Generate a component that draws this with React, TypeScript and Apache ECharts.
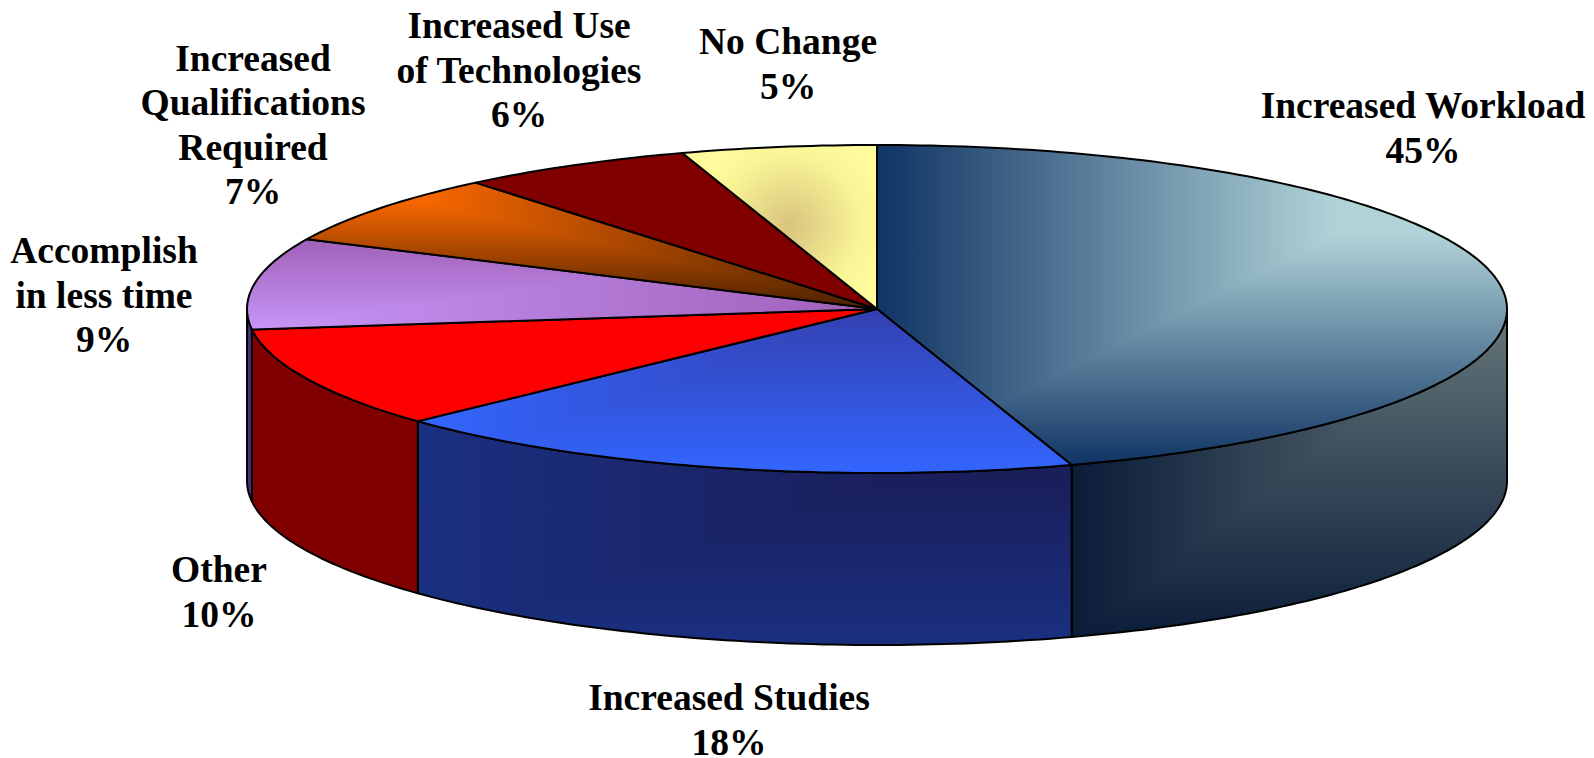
import React, { useEffect, useRef } from "react";
import * as echarts from "echarts";

const categories = [
  "Increased Workload",
  "Increased Studies",
  "Other",
  "Accomplish\nin less time",
  "Increased\nQualifications\nRequired",
  "Increased Use\nof Technologies",
  "No Change",
];
const percentages = [45, 18, 10, 9, 7, 6, 5];

type Pt = number[];
const CX = 877, CY = 309, RX = 630, RY = 164, DEPTH = 172;
const FONT = "'Liberation Serif', 'Times New Roman', serif";
const labelCenters = [
  [1423, 128], [729, 720], [219, 592], [104, 295], [253, 125], [519, 70], [788, 64],
];

const rad = (d: number) => (d * Math.PI) / 180;
const onRim = (deg: number, dy = 0): Pt => [CX + RX * Math.sin(rad(deg)), CY - RY * Math.cos(rad(deg)) + dy];
function arc(a0: number, a1: number, dy = 0): Pt[] {
  const n = Math.max(2, Math.ceil(Math.abs(a1 - a0)));
  const pts: Pt[] = [];
  for (let i = 0; i <= n; i++) pts.push(onRim(a0 + ((a1 - a0) * i) / n, dy));
  return pts;
}
// keep the part of a polygon where f(p) >= 0
function clip(pts: Pt[], f: (p: Pt) => number): Pt[] {
  const out: Pt[] = [];
  pts.forEach((p, i) => {
    const q = pts[(i + 1) % pts.length];
    const fp = f(p), fq = f(q);
    if (fp >= 0) out.push(p);
    if (fp >= 0 !== fq >= 0) {
      const t = fp / (fp - fq);
      out.push([p[0] + (q[0] - p[0]) * t, p[1] + (q[1] - p[1]) * t]);
    }
  });
  return out;
}
const grad = (x0: number, y0: number, x1: number, y1: number, c0: string, c1: string) =>
  new echarts.graphic.LinearGradient(x0, y0, x1, y1, [{ offset: 0, color: c0 }, { offset: 1, color: c1 }], true);

// colour follows min(horizontal ramp, vertical ramp): a creased, corner-to-corner fill
function creased(pts: Pt[], x0: number, x1: number, y0: number, y1: number, c0: string, c1: string) {
  const lower = clip(pts, (p) => (p[0] - x0) / (x1 - x0) - (p[1] - y0) / (y1 - y0));
  const els: any[] = [
    { type: "polygon", shape: { points: pts }, style: { fill: grad(x0, 0, x1, 0, c0, c1) } },
  ];
  if (lower.length > 2)
    els.push({ type: "polygon", shape: { points: lower }, style: { fill: grad(0, y0, 0, y1, c0, c1) } });
  return els;
}
const flat = (pts: Pt[], fill: any) => [{ type: "polygon", shape: { points: pts }, style: { fill } }];
const outline = (pts: Pt[]) => ({
  type: "polygon",
  shape: { points: pts },
  style: { fill: "none", stroke: "#000", lineWidth: 2, lineJoin: "round" },
});

const topFills: ((p: Pt[]) => any[])[] = [
  (p) => creased(p, 877, 1335, 466, 234, "#103464", "#b0d3d8"),
  (p) => creased(p, 418, 877, 474, 309, "#3366ff", "#3340b0"),
  (p) => flat(p, "#ff0000"),
  (p) => creased(p, 877, 251, 239, 329, "#a060b8", "#c796f8"),
  (p) => creased(p, 877, 430, 309, 203, "#4a2000", "#f56600"),
  (p) => flat(p, "#800000"),
  (p) =>
    flat(
      p,
      new echarts.graphic.RadialGradient(
        790, 225, 95,
        [{ offset: 0, color: "#d8c47e" }, { offset: 0.75, color: "#f9f596" }, { offset: 1, color: "#fdfb9c" }],
        true
      )
    ),
];
const sideFills: ((p: Pt[]) => any[])[] = [
  (p) => creased(p, 1072, 1507, 641, 309, "#0a1c38", "#66787a"),
  (p) => creased(p, 418, 880, 646, 481, "#1a3080", "#1a1f5c"),
  (p) => flat(p, "#800000"),
  (p) => flat(p, "#4b2c77"),
  (p) => flat(p, "#000"),
  (p) => flat(p, "#000"),
  (p) => flat(p, "#000"),
];

const total = percentages.reduce((a, b) => a + b, 0);

function renderItem(params: any, api: any) {
  const i = params.dataIndex;
  const before = percentages.slice(0, i).reduce((a, b) => a + b, 0);
  const a0 = (before / total) * 360;
  const a1 = ((before + api.value(0)) / total) * 360;
  const children: any[] = [];

  const s0 = Math.max(a0, 90), s1 = Math.min(a1, 270);
  if (s1 > s0) {
    const side = [...arc(s0, s1), ...arc(s1, s0, DEPTH)];
    children.push(...sideFills[i](side), outline(side));
  }
  const top: Pt[] = [[CX, CY], ...arc(a0, a1)];
  children.push(...topFills[i](top), outline(top));
  children.push({
    type: "text",
    z2: 10,
    style: {
      x: labelCenters[i][0],
      y: labelCenters[i][1],
      text: `${categories[i]}\n${api.value(0)}%`,
      align: "center",
      verticalAlign: "middle",
      font: `bold 37.5px ${FONT}`,
      lineHeight: 44.6,
      fill: "#000",
    },
  });
  return { type: "group", children };
}

export default function App() {
  const ref = useRef<HTMLDivElement>(null);
  useEffect(() => {
    document.body.style.margin = "0";
    const chart = echarts.init(ref.current!, undefined, { renderer: "svg" });
    chart.setOption({
      animation: false,
      backgroundColor: "#ffffff",
      series: [
        {
          type: "custom",
          coordinateSystem: "none",
          silent: true,
          clip: false,
          renderItem,
          data: percentages,
        },
      ],
    });
    return () => chart.dispose();
  }, []);
  return <div ref={ref} style={{ width: 1594, height: 758 }} />;
}
